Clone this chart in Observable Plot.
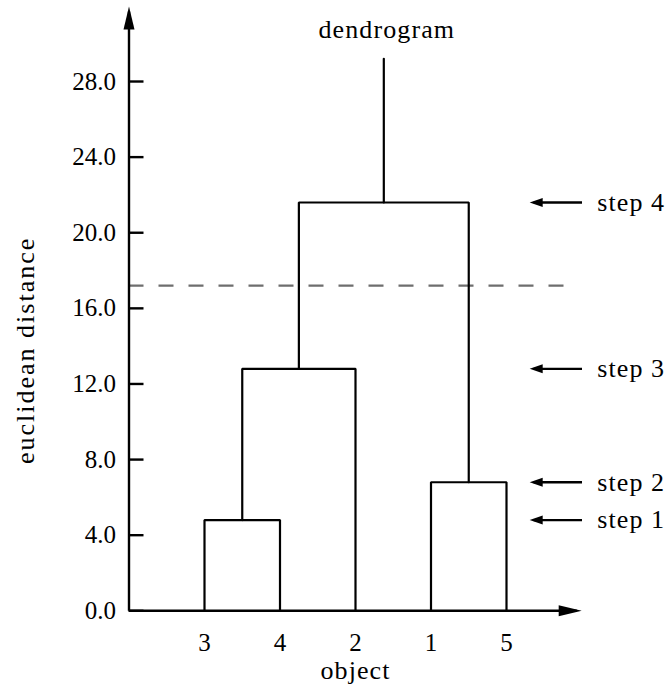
<!DOCTYPE html>
<html><head><meta charset="utf-8">
<script src="https://cdn.jsdelivr.net/npm/d3@7"></script>
<script src="https://cdn.jsdelivr.net/npm/@observablehq/plot@0.6"></script>
<style>body{margin:0;background:#fff}</style>
</head><body><div id="chart"></div>
<script>
// ---- data ----
const leaves = ["3", "4", "2", "1", "5"];          // leaf order on the x axis
const mergeA = ["3", "1", "C1", "C3"];             // first child of each merge
const mergeB = ["4", "5", "2", "C2"];              // second child of each merge
const mergeHeight = [4.8, 6.8, 12.8, 21.6];        // euclidean distance at each step
const stepLabels = ["step 1", "step 2", "step 3", "step 4"];
const rootTop = 29.2;
const cutHeight = 17.2;
const yTicks = [0, 4, 8, 12, 16, 20, 24, 28];
const xTicks = [1, 2, 3, 4, 5];
const title = "dendrogram";
const xLabel = "object";
const yLabel = "euclidean distance";
const xAxisEnd = 5.93, yAxisEnd = 31.7;
const cutEnd = 5.8;
const arrowTail = 6.0, arrowTip = 5.36;

// ---- build tree segments ----
const nodes = new Map();
leaves.forEach((l, i) => nodes.set(l, {x: i + 1, h: 0}));
const segs = [];
mergeHeight.forEach((h, i) => {
  const a = nodes.get(mergeA[i]), b = nodes.get(mergeB[i]);
  nodes.set("C" + (i + 1), {x: (a.x + b.x) / 2, h});
  segs.push({step: i, x: a.x, y: a.h}, {step: i, x: a.x, y: h},
            {step: i, x: b.x, y: h}, {step: i, x: b.x, y: b.h});
});
const root = nodes.get("C" + mergeHeight.length);
const stem = [{x: root.x, y: root.h}, {x: root.x, y: rootTop}];
const steps = mergeHeight.map((h, i) => ({h, label: stepLabels[i]}));

const wordStyle = {fontSize: 26};
const chart = Plot.plot({
  width: 667, height: 695,
  marginLeft: 128.5, marginRight: 85.5, marginTop: 5.4, marginBottom: 84.7,
  x: {domain: [0, 6]},
  y: {domain: [0, 32]},
  style: {fontFamily: "'Liberation Serif', serif", fontSize: "25px", background: "#fff", color: "#000"},
  marks: [
    Plot.ruleY([cutHeight], {x1: 0, x2: cutEnd, stroke: "#6e6e6e", strokeWidth: 2.2, strokeDasharray: "15,15"}),
    Plot.line(segs, {x: "x", y: "y", z: "step", stroke: "#000", strokeWidth: 2.2, strokeLinejoin: "miter"}),
    Plot.line(stem, {x: "x", y: "y", stroke: "#000", strokeWidth: 2.2}),
    Plot.axisY({ticks: yTicks, tickFormat: d3.format(".1f"), tickSize: 15, dx: 15, tickPadding: 13, strokeWidth: 2.4, label: null}),
    Plot.axisX({ticks: xTicks, tickFormat: (i) => leaves[i - 1], tickSize: 0, tickPadding: 22, label: null}),
    Plot.link([0], {x1: 0, y1: 0, x2: 0, y2: yAxisEnd, stroke: "#000", strokeWidth: 2.4}),
    Plot.link([0], {x1: 0, y1: 0, x2: xAxisEnd, y2: 0, stroke: "#000", strokeWidth: 2.4}),
    Plot.link(steps, {x1: () => arrowTail, x2: () => arrowTip, y1: "h", y2: "h", stroke: "#000", strokeWidth: 2.3}),
    Plot.text(steps, {y: "h", text: "label", frameAnchor: "right", dx: 15.2, textAnchor: "start", lineAnchor: "middle", ...wordStyle}),
    Plot.text([title], {x: () => root.x, frameAnchor: "top", dx: 3, dy: 23.5, textAnchor: "middle", lineAnchor: "middle", text: (d) => d, ...wordStyle}),
    Plot.text([xLabel], {frameAnchor: "bottom", dy: 60, textAnchor: "middle", lineAnchor: "middle", text: (d) => d, ...wordStyle}),
    Plot.text([yLabel], {frameAnchor: "left", dx: -103.5, dy: 42, rotate: -90, textAnchor: "middle", lineAnchor: "middle", text: (d) => d, ...wordStyle})
  ]
});
document.getElementById("chart").appendChild(chart);

const svg = d3.select(chart);
// letter spacing for words (the reference font is wider)
svg.selectAll("text").filter(function () { return /[a-z]/.test(this.textContent); })
  .style("letter-spacing", "1.1px");
svg.selectAll("text").filter(function () { return this.textContent === yLabel; })
  .style("letter-spacing", "2px");

// filled arrowheads
const defs = svg.insert("defs", ":first-child");
function addMarker(id, len, half, off) {
  defs.append("marker").attr("id", id).attr("markerUnits", "userSpaceOnUse")
    .attr("viewBox", `${-len + off - 1} ${-half - 1} ${len + 2} ${2 * half + 2}`)
    .attr("markerWidth", len + 2).attr("markerHeight", 2 * half + 2)
    .attr("refX", 0).attr("refY", 0).attr("orient", "auto").attr("overflow", "visible")
    .append("path").attr("d", `M${off},0L${-len + off},${-half}L${-len + off},${half}Z`).attr("fill", "#000").attr("stroke", "none");
}
addMarker("axisHead", 23, 5.5, 5);
addMarker("stepHead", 13, 4.5, 4);
svg.selectAll('g[aria-label="link"] path').each(function () {
  const b = this.getBBox();
  const len = Math.max(b.width, b.height);
  d3.select(this).attr("marker-end", len > 100 ? "url(#axisHead)" : "url(#stepHead)");
});
</script>
</body></html>
